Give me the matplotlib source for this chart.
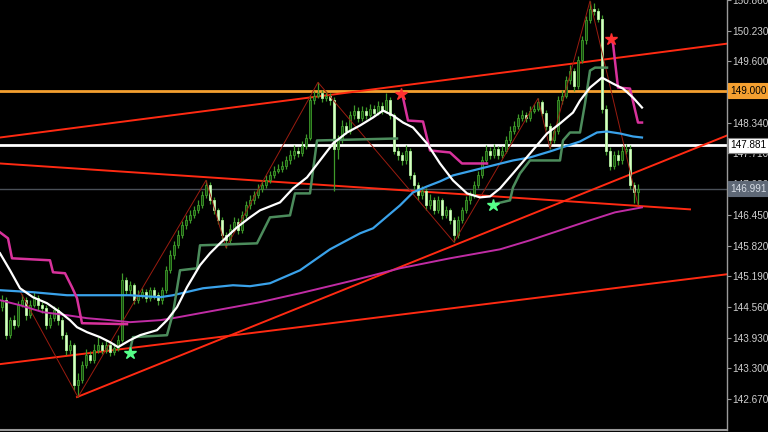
import matplotlib
matplotlib.use("Agg")
import matplotlib.pyplot as plt
import matplotlib.transforms as mtransforms

plt.rcParams["font.family"] = ["Liberation Sans", "DejaVu Sans"]

# ---------------- data ----------------
closes = [144.70, 143.98, 144.29, 144.19, 144.60, 144.70, 144.39, 144.60, 144.74, 144.60,
          144.54, 144.19, 144.33, 144.49, 144.29, 143.98, 143.67, 143.78, 142.96, 143.06,
          143.37, 143.57, 143.47, 143.67, 143.78, 143.67, 143.78, 143.63, 143.72, 143.88,
          145.11, 144.90, 145.01, 144.70, 144.80, 144.86, 144.74, 144.90, 144.80, 144.70,
          144.90, 145.31, 145.62, 145.83, 146.03, 146.24, 146.34, 146.44, 146.54, 146.65,
          146.85, 147.06, 146.75, 146.54, 146.34, 146.03, 145.93, 146.17, 146.30, 146.13,
          146.44, 146.65, 146.75, 146.85, 146.99, 147.06, 147.16, 147.26, 147.36, 147.40,
          147.46, 147.57, 147.67, 147.77, 147.73, 147.87, 148.02, 148.80, 148.90, 148.96,
          148.84, 148.90, 148.80, 147.81, 147.98, 148.28, 148.18, 148.49, 148.59, 148.43,
          148.59, 148.49, 148.63, 148.55, 148.69, 148.59, 148.80, 148.49, 147.77, 147.67,
          147.57, 147.77, 147.26, 147.06, 146.85, 146.95, 146.65, 146.75, 146.54, 146.75,
          146.44, 146.54, 146.34, 146.03, 146.34, 146.54, 146.75, 146.85, 147.06, 147.26,
          147.57, 147.77, 147.67, 147.81, 147.67, 147.77, 147.98, 148.18, 148.28, 148.43,
          148.49, 148.43, 148.59, 148.63, 148.76, 148.55, 148.28, 147.98, 148.18, 148.80,
          148.90, 149.21, 149.41, 149.10, 149.62, 150.03, 150.44, 150.68, 150.64, 150.48,
          148.63, 147.77, 147.46, 147.67, 147.57, 147.77, 147.81, 147.06, 146.91, 146.99]
first_open = 144.55
highs = [144.80, 144.76, 144.36, 144.40, 144.68, 144.82, 144.76, 144.70, 144.86, 144.80,
         144.66, 144.60, 144.42, 144.58, 144.55, 144.35, 144.05, 143.88, 143.82, 143.20,
         143.45, 143.70, 143.66, 143.80, 143.95, 143.85, 143.88, 143.84, 143.82, 143.98,
         145.25, 145.18, 145.10, 145.06, 144.90, 144.95, 144.92, 144.98, 144.96, 144.86,
         144.98, 145.40, 145.72, 145.92, 146.14, 146.32, 146.44, 146.55, 146.64, 146.76,
         146.95, 147.16, 147.12, 146.82, 146.60, 146.40, 146.10, 146.26, 146.40, 146.38,
         146.52, 146.74, 146.86, 146.94, 147.08, 147.16, 147.26, 147.36, 147.46, 147.50,
         147.56, 147.66, 147.78, 147.88, 147.84, 147.96, 148.10, 148.92, 149.00, 149.17,
         149.02, 149.00, 148.96, 148.86, 148.08, 148.40, 148.36, 148.58, 148.70, 148.66,
         148.68, 148.66, 148.72, 148.70, 148.78, 148.76, 148.96, 148.86, 148.55, 147.85,
         147.75, 147.88, 147.82, 147.32, 147.12, 147.05, 147.00, 146.88, 146.82, 146.84,
         146.80, 146.64, 146.60, 146.40, 146.42, 146.62, 146.84, 146.95, 147.14, 147.36,
         147.66, 147.88, 147.84, 147.90, 147.86, 147.86, 148.06, 148.28, 148.38, 148.52,
         148.60, 148.56, 148.68, 148.72, 148.84, 148.80, 148.60, 148.34, 148.26, 148.88,
         149.02, 149.30, 149.52, 149.46, 149.72, 150.12, 150.54, 150.84, 150.80, 150.70,
         150.55, 148.70, 147.85, 147.76, 147.78, 147.86, 147.90, 147.88, 147.12, 147.08]
lows = [144.48, 143.90, 143.92, 144.10, 144.15, 144.55, 144.30, 144.33, 144.55, 144.50,
        144.44, 144.10, 144.12, 144.28, 144.20, 143.90, 143.58, 143.60, 142.86, 142.71,
        143.00, 143.30, 143.40, 143.42, 143.62, 143.60, 143.62, 143.56, 143.58, 143.66,
        143.85, 144.82, 144.80, 144.62, 144.64, 144.74, 144.66, 144.68, 144.72, 144.60,
        144.62, 144.85, 145.25, 145.55, 145.76, 145.98, 146.16, 146.28, 146.38, 146.48,
        146.60, 146.80, 146.68, 146.46, 146.26, 145.95, 145.78, 145.86, 146.10, 146.05,
        146.08, 146.38, 146.58, 146.68, 146.80, 146.92, 147.00, 147.10, 147.20, 147.30,
        147.34, 147.40, 147.50, 147.60, 147.64, 147.66, 147.80, 147.98, 148.72, 148.84,
        148.76, 148.78, 148.70, 146.95, 147.60, 147.92, 148.10, 148.12, 148.42, 148.36,
        148.38, 148.42, 148.44, 148.48, 148.50, 148.52, 148.54, 148.42, 147.70, 147.58,
        147.48, 147.50, 147.18, 146.98, 146.76, 146.78, 146.56, 146.58, 146.46, 146.48,
        146.36, 146.38, 146.26, 145.89, 145.98, 146.28, 146.48, 146.68, 146.80, 147.00,
        147.20, 147.50, 147.60, 147.62, 147.60, 147.62, 147.72, 147.92, 148.12, 148.22,
        148.38, 148.36, 148.38, 148.54, 148.58, 148.48, 148.20, 147.81, 147.92, 148.12,
        148.72, 148.84, 149.14, 149.00, 149.04, 149.56, 149.96, 150.38, 150.56, 150.40,
        148.55, 147.68, 147.38, 147.40, 147.48, 147.50, 147.70, 146.98, 146.70, 146.65]

# fast MA (white): bar index, price
white_x = [-0.5, 2, 4.5, 7.75, 11.25, 14.5, 17, 18.75, 21.25, 24.5, 27, 29, 32, 34.5, 38.75,
           41.25, 43.75, 46.25, 49.5, 52, 54.5, 58.75, 62, 64.5, 69.5, 72.75, 76.25, 79.5,
           82.75, 86.25, 89.5, 92.75, 95.25, 97.75, 100.25, 102.75, 106.25, 109.5, 112.75,
           116.25, 119.5, 122, 124.5, 127.75, 132, 136.25, 139.5, 142.75, 144.5, 147, 150,
           152.75, 155.25, 157.75, 160]
white_y = [145.662, 145.313, 144.944, 144.760, 144.637, 144.453, 144.289, 144.145, 144.043,
           143.941, 143.838, 143.736, 143.879, 143.981, 144.084, 144.289, 144.555, 144.965,
           145.416, 145.662, 145.866, 146.194, 146.399, 146.543, 146.706, 146.993, 147.219,
           147.567, 147.915, 148.141, 148.284, 148.448, 148.591, 148.489, 148.345, 148.243,
           147.915, 147.505, 147.157, 146.891, 146.809, 146.829, 146.993, 147.301, 147.710,
           148.120, 148.325, 148.550, 148.796, 149.063, 149.267, 149.144, 149.042, 148.858,
           148.653]
# medium MA (blue)
blue_x = [-0.5, 7.75, 16.25, 24.5, 32, 39.5, 42.75, 50.25, 57.75, 62, 67, 74.5, 82, 89.5,
          92.75, 99.5, 102.75, 106.25, 109.5, 112.75, 117.75, 122.75, 127.75, 132, 137,
          140.75, 144.5, 148.75, 151.25, 154.5, 157.75, 160]
blue_y = [144.904, 144.863, 144.801, 144.801, 144.801, 144.760, 144.801, 144.944, 145.006,
          144.986, 145.047, 145.313, 145.743, 146.071, 146.174, 146.645, 146.911, 147.034,
          147.137, 147.260, 147.362, 147.465, 147.567, 147.629, 147.752, 147.854, 147.956,
          148.141, 148.161, 148.120, 148.059, 148.038]
# slow MA (magenta)
slow_x = [-0.5, 4.5, 10.25, 16.25, 21.25, 27, 32, 39.5, 42.75, 49.5, 57.75, 64.5, 74.5, 87,
          99.5, 112, 124.5, 132, 139.5, 147, 153.25, 160]
slow_y = [144.699, 144.596, 144.453, 144.391, 144.330, 144.289, 144.248, 144.289, 144.330,
          144.432, 144.555, 144.658, 144.842, 145.088, 145.354, 145.559, 145.743, 145.928,
          146.133, 146.338, 146.502, 146.604]

# trailing stops (magenta = down trend, green = up trend)
stopdn1_x = [-0.5, 1.5, 2.5, 12, 12.75, 15.75, 17.5, 18.75, 20, 31.25]
stopdn1_y = [146.092, 145.969, 145.559, 145.518, 145.272, 145.252, 144.965, 144.740, 144.227, 144.207]
stopdn2_x = [99.75, 100.25, 101.5, 105.25, 107, 112, 115, 121.25]
stopdn2_y = [148.940, 148.858, 148.386, 148.366, 147.772, 147.731, 147.505, 147.505]
stopdn3_x = [152.25, 152.75, 154, 157, 159, 160]
stopdn3_y = [150.046, 149.964, 149.063, 149.042, 148.345, 148.345]
stopup1_x = [32, 32.75, 41.25, 42.75, 44.5, 48.75, 49.5, 63.75, 67, 72, 73.25, 77, 78.75, 98.75]
stopup1_y = [143.674, 143.941, 143.981, 144.432, 145.313, 145.354, 145.825, 145.866, 146.399,
             146.440, 146.891, 146.891, 147.977, 148.018]
stopup2_x = [122.75, 123.75, 127, 127.75, 129.5, 132, 139.5, 140.25, 142, 144.5, 145.75, 147, 148.25, 151.25]
stopup2_y = [146.665, 146.686, 146.748, 147.014, 147.301, 147.567, 147.567, 147.977, 148.141,
             148.141, 148.735, 149.411, 149.472, 149.472]

# signal stars
sell_x = [99.75, 152.25]
sell_y = [148.94, 150.05]
buy_x = [32, 122.75]
buy_y = [143.61, 146.645]

# zigzag
zz_x = [4.5, 19, 51, 56, 79, 113, 134, 137, 147, 159]
zz_y = [144.883, 142.71, 147.16, 145.78, 149.17, 145.89, 148.84, 147.81, 150.84, 146.65]

# trend lines: (x0, y0, x1, y1) in bar index / price
trend_lines = [(-0.5, 148.038, 181.25, 149.964),
               (-0.5, 147.505, 172.0, 146.563),
               (18.75, 142.711, 181.25, 148.079),
               (-0.5, 143.387, 181.25, 145.231)]

levels = [149.000, 147.881, 146.991]
tick_vals = [150.860, 150.230, 149.600, 148.970, 148.340, 147.710, 147.080,
             146.450, 145.820, 145.190, 144.560, 143.930, 143.300, 142.670]

# ---------------- figure ----------------
W, H = 768, 432
fig = plt.figure(figsize=(W / 100, H / 100), dpi=100, facecolor="black")
ax = fig.add_axes([0, 2 / H, 727 / W, 430 / H], facecolor="black")
ax.set_xlim(-0.5, 181.25)
ax.set_ylim(142.035, 150.845)

# horizontal levels
ax.axhline(levels[0], color="#f5a030", lw=2.0, zorder=1)
ax.axhline(levels[1], color="#ffffff", lw=2.0, zorder=1)
ax.axhline(levels[2], color="#4a5058", lw=1.0, zorder=1)

# trend lines
for (x0, y0, x1, y1) in trend_lines:
    ax.plot([x0, x1], [y0, y1], color="#ff2a12", lw=1.4, zorder=2)

# candles
opens = [first_open] + closes[:-1]
up_col_face, up_col_edge = "#154a0e", "#3f9a2a"
dn_col_face, dn_col_edge = "#d8ffc6", "#b4eea0"
for i, (o, c, h, l) in enumerate(zip(opens, closes, highs, lows)):
    up = c >= o
    ax.vlines(i, l, h, color="#3f9a2a", lw=0.9, zorder=3)
    ax.bar(i, c - o, bottom=o, width=0.72,
           color=up_col_face if up else dn_col_face,
           edgecolor=up_col_edge if up else dn_col_edge, lw=0.6, zorder=4)

# zigzag
ax.plot(zz_x, zz_y, color="#9a1c10", lw=0.7, zorder=5)

# moving averages
ax.plot(slow_x, slow_y, color="#c02ca4", lw=1.4, zorder=6)
ax.plot(blue_x, blue_y, color="#3aa2ea", lw=1.6, zorder=6)
ax.plot(white_x, white_y, color="#ffffff", lw=1.6, zorder=7)

# trailing stops
for sx, sy in [(stopdn1_x, stopdn1_y), (stopdn2_x, stopdn2_y), (stopdn3_x, stopdn3_y)]:
    ax.plot(sx, sy, color="#d8329c", lw=1.8, zorder=6)
for sx, sy in [(stopup1_x, stopup1_y), (stopup2_x, stopup2_y)]:
    ax.plot(sx, sy, color="#4c8c5c", lw=1.8, zorder=6)

# stars
ax.plot(sell_x, sell_y, ls="none", marker="*", ms=9, color="#ff3030", zorder=8)
ax.plot(buy_x, buy_y, ls="none", marker="*", ms=9, color="#55ff88", zorder=8)

# axes styling
for s in ["top", "left"]:
    ax.spines[s].set_visible(False)
ax.spines["right"].set_color("#9a9a9a")
ax.spines["bottom"].set_color("#9a9a9a")
ax.spines["right"].set_linewidth(1.0)
ax.spines["bottom"].set_linewidth(1.5)
ax.set_xticks([])
ax.yaxis.tick_right()
ax.set_yticks(tick_vals)
ax.set_yticklabels([f"{v:.3f}" for v in tick_vals])
ax.tick_params(axis="y", colors="#9a9a9a", labelcolor="#d0d0d0", length=3, width=0.8,
               labelsize=7.2, pad=1.0)

# price boxes
trans = mtransforms.blended_transform_factory(ax.transAxes, ax.transData)
box_specs = [(levels[0], "#f5a030", "#000000", "#f5a030"),
             (levels[1], "#ffffff", "#000000", "#808080"),
             (levels[2], "#5e6876", "#d8dee6", "#5e6876")]
for val, bg, fg, ec in box_specs:
    ax.text(1.005, val, f"{val:.3f}", transform=trans, ha="left", va="center",
            fontsize=7.2, color=fg, clip_on=False, zorder=20,
            bbox=dict(boxstyle="square,pad=0.25", facecolor=bg, edgecolor=ec, lw=0.8))

fig.savefig("out.png", dpi=100, facecolor="black")
